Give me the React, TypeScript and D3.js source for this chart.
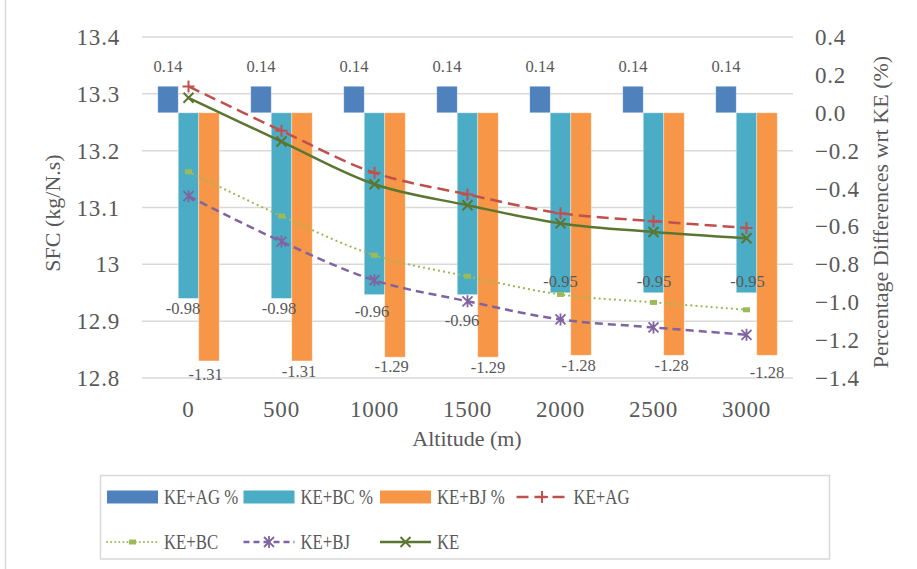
import React from 'react';
import * as d3 from 'd3';

const categories = ['0', '500', '1000', '1500', '2000', '2500', '3000'];
const keAgPct = [0.14, 0.14, 0.14, 0.14, 0.14, 0.14, 0.14];
const keBcPct = [-0.98, -0.98, -0.96, -0.96, -0.95, -0.95, -0.95];
const keBjPct = [-1.31, -1.31, -1.29, -1.29, -1.28, -1.28, -1.28];
const keAg = [13.313, 13.235, 13.161, 13.123, 13.09, 13.076, 13.064];
const keBc = [13.163, 13.085, 13.016, 12.979, 12.947, 12.933, 12.92];
const keBj = [13.12, 13.04, 12.972, 12.935, 12.903, 12.889, 12.876];
const ke = [13.293, 13.216, 13.141, 13.104, 13.072, 13.057, 13.046];
const leftTicks = [12.8, 12.9, 13.0, 13.1, 13.2, 13.3, 13.4];
const rightTicks = [-1.4, -1.2, -1.0, -0.8, -0.6, -0.4, -0.2, 0.0, 0.2, 0.4];

// manual label nudges (style), as in the original chart
const bcLabelDx = [-5.5, -2.5, -2.5, -5.5, 0, 0.5, 1];
const bcLabelDy = [15.5, 15.5, 22, 31.5, -5.5, -5.5, -5.5];
const bjLabelDx = [-3.3, -3, -3.3, 0, -2.3, -2.3, 0];
const bjLabelDy = [19, 16.5, 14.5, 15.4, 15.6, 15.6, 23];

const W = 917;
const H = 569;
const X0 = 142;
const X1 = 793;
const YT = 37;
const YB = 378;

const C = {
  blue: '#4F81BD',
  teal: '#4BACC6',
  orange: '#F79646',
  red: '#C0504D',
  lgreen: '#9BBB59',
  purple: '#8064A2',
  olive: '#5B7630',
  grid: '#D9D9D9',
  text: '#595959',
};
const FONT = '"Liberation Serif", "Times New Roman", serif';

type MarkerKind = 'plus' | 'x' | 'square' | 'star';

function Marker({ kind, x, y, color }: { kind: MarkerKind; x: number; y: number; color: string }) {
  if (kind === 'plus') {
    return <path d={`M${x - 6},${y}H${x + 6}M${x},${y - 6}V${y + 6}`} stroke={color} strokeWidth={2} fill="none" />;
  }
  if (kind === 'x') {
    return <path d={`M${x - 5},${y - 5}L${x + 5},${y + 5}M${x - 5},${y + 5}L${x + 5},${y - 5}`} stroke={color} strokeWidth={2} fill="none" />;
  }
  if (kind === 'square') {
    return <rect x={x - 3.5} y={y - 2.5} width={7} height={5} fill={color} />;
  }
  return (
    <path
      d={`M${x - 5},${y - 5}L${x + 5},${y + 5}M${x - 5},${y + 5}L${x + 5},${y - 5}M${x},${y - 6}V${y + 6}`}
      stroke={color}
      strokeWidth={1.8}
      fill="none"
    />
  );
}

export default function App() {
  const xCat = d3.scaleBand<string>().domain(categories).range([X0, X1]).padding(0);
  const barGroup = 61.5;
  const xSer = d3.scaleBand<string>().domain(['ag', 'bc', 'bj']).range([0, barGroup]).padding(0);
  const yL = d3.scaleLinear().domain([12.8, 13.4]).range([YB, YT]);
  const yR = d3.scaleLinear().domain([-1.4, 0.4]).range([YB, YT]);
  const bw = xSer.bandwidth();
  const groupStart = (c: string) => (xCat(c) as number) + (xCat.bandwidth() - barGroup) / 2;
  const cx = (c: string) => (xCat(c) as number) + xCat.bandwidth() / 2;

  const barSeries = [
    { key: 'ag', values: keAgPct, color: C.blue },
    { key: 'bc', values: keBcPct, color: C.teal },
    { key: 'bj', values: keBjPct, color: C.orange },
  ];

  const lineSeries: { name: string; values: number[]; color: string; dash: string; width: number; marker: MarkerKind; cap: string }[] = [
    { name: 'KE+AG', values: keAg, color: C.red, dash: '12,6', width: 2.5, marker: 'plus', cap: 'butt' },
    { name: 'KE+BC', values: keBc, color: C.lgreen, dash: '0.1,5', width: 2.2, marker: 'square', cap: 'round' },
    { name: 'KE+BJ', values: keBj, color: C.purple, dash: '8,5', width: 2.5, marker: 'star', cap: 'butt' },
    { name: 'KE', values: ke, color: C.olive, dash: '', width: 2.5, marker: 'x', cap: 'butt' },
  ];

  const lineGen = d3
    .line<number>()
    .x((_, i) => cx(categories[i]))
    .y((d) => yL(d))
    .curve(d3.curveCatmullRom.alpha(0.5));

  const fmtR = d3.format('.1f');
  const fmtL = (v: number) => (Math.abs(v - 13) < 1e-9 ? '13' : d3.format('.1f')(v));

  const legendItems: { label: string; kind: 'bar' | 'line'; color: string; dash?: string; width?: number; marker?: MarkerKind; cap?: string }[] = [
    { label: 'KE+AG %', kind: 'bar', color: C.blue },
    { label: 'KE+BC %', kind: 'bar', color: C.teal },
    { label: 'KE+BJ %', kind: 'bar', color: C.orange },
    { label: 'KE+AG', kind: 'line', color: C.red, dash: '12,6', width: 2.5, marker: 'plus', cap: 'butt' },
    { label: 'KE+BC', kind: 'line', color: C.lgreen, dash: '0.1,4', width: 2, marker: 'square', cap: 'round' },
    { label: 'KE+BJ', kind: 'line', color: C.purple, dash: '6,4', width: 2.5, marker: 'star', cap: 'butt' },
    { label: 'KE', kind: 'line', color: C.olive, dash: '', width: 2.5, marker: 'x', cap: 'butt' },
  ];
  const legX = (i: number) => 107 + (i % 4) * 136.5;
  const legY = (i: number) => (i < 4 ? 497 : 542);

  return (
    <svg
      width={W}
      height={H}
      style={{ position: 'absolute', left: 0, top: 0, background: '#fff' }}
      fontFamily={FONT}
    >
      <rect x={0} y={0} width={W} height={H} fill="#fff" />
      <line x1={5.5} x2={5.5} y1={0} y2={H} stroke={C.grid} strokeWidth={1.5} />

      {/* gridlines */}
      {leftTicks.map((t) => (
        <line key={t} x1={X0} x2={X1} y1={yL(t)} y2={yL(t)} stroke={C.grid} strokeWidth={1.5} />
      ))}

      {/* bars */}
      {barSeries.map((s) =>
        s.values.map((v, i) => {
          const c = categories[i];
          const x = groupStart(c) + (xSer(s.key) as number);
          const y0 = yR(0);
          const y1 = yR(v);
          return (
            <rect
              key={s.key + i}
              x={x}
              y={Math.min(y0, y1)}
              width={bw}
              height={Math.abs(y1 - y0)}
              fill={s.color}
              stroke="#ffffff"
              strokeOpacity={0.45}
              strokeWidth={0.8}
            />
          );
        })
      )}

      {/* lines */}
      {lineSeries.map((s) => (
        <g key={s.name}>
          <path
            d={lineGen(s.values) as string}
            fill="none"
            stroke={s.color}
            strokeWidth={s.width}
            strokeDasharray={s.dash || undefined}
            strokeLinecap={s.cap as any}
          />
          {s.values.map((v, i) => (
            <Marker key={i} kind={s.marker} x={cx(categories[i])} y={yL(v)} color={s.color} />
          ))}
        </g>
      ))}

      {/* bar data labels */}
      <g fill={C.text} fontSize={16.5} textAnchor="middle">
        {keAgPct.map((v, i) => (
          <text key={'la' + i} x={groupStart(categories[i]) + (xSer('ag') as number) + bw / 2} y={yR(v) - 14.3}>
            {v.toFixed(2)}
          </text>
        ))}
        {keBcPct.map((v, i) => (
          <text
            key={'lb' + i}
            x={groupStart(categories[i]) + (xSer('bc') as number) + bw / 2 + bcLabelDx[i]}
            y={yR(v) + bcLabelDy[i]}
          >
            {v.toFixed(2)}
          </text>
        ))}
        {keBjPct.map((v, i) => (
          <text
            key={'lj' + i}
            x={groupStart(categories[i]) + (xSer('bj') as number) + bw / 2 + bjLabelDx[i]}
            y={yR(v) + bjLabelDy[i]}
          >
            {v.toFixed(2)}
          </text>
        ))}
      </g>

      {/* left axis labels */}
      <g fill={C.text} fontSize={23} textAnchor="end" letterSpacing={0.8}>
        {leftTicks.map((t) => (
          <text key={t} x={120} y={yL(t)} dy="0.35em">
            {fmtL(t)}
          </text>
        ))}
      </g>
      {/* right axis labels */}
      <g fill={C.text} fontSize={23} textAnchor="start" letterSpacing={0.8}>
        {rightTicks.map((t) => (
          <text key={t} x={815} y={yR(t)} dy="0.35em">
            {fmtR(t)}
          </text>
        ))}
      </g>
      {/* category labels */}
      <g fill={C.text} fontSize={23} textAnchor="middle" letterSpacing={0.8}>
        {categories.map((c) => (
          <text key={c} x={cx(c)} y={417}>
            {c}
          </text>
        ))}
      </g>

      {/* axis titles */}
      <text x={467} y={446} fill={C.text} fontSize={22} textAnchor="middle">
        Altitude (m)
      </text>
      <text transform="translate(60,213) rotate(-90)" fill={C.text} fontSize={22} textAnchor="middle">
        SFC (kg/N.s)
      </text>
      <text transform="translate(888,212) rotate(-90)" fill={C.text} fontSize={22} textAnchor="middle">
        Percentage Differences wrt KE (%)
      </text>

      {/* legend */}
      <rect x={100.5} y={475.5} width={729} height={83.5} fill="#fff" stroke={C.grid} strokeWidth={1.5} />
      {legendItems.map((it, i) => {
        const x = legX(i);
        const y = legY(i);
        return (
          <g key={it.label}>
            {it.kind === 'bar' ? (
              <rect x={x} y={y - 6.5} width={51} height={13} fill={it.color} />
            ) : (
              <>
                <line
                  x1={x}
                  x2={x + 51}
                  y1={y}
                  y2={y}
                  stroke={it.color}
                  strokeWidth={it.width}
                  strokeDasharray={it.dash || undefined}
                  strokeLinecap={it.cap as any}
                />
                <Marker kind={it.marker as MarkerKind} x={x + 25.5} y={y} color={it.color} />
              </>
            )}
            <text
              transform={`translate(${x + 57},${y}) scale(0.84,1)`}
              dy="0.35em"
              fill={C.text}
              fontSize={20}
            >
              {it.label}
            </text>
          </g>
        );
      })}
    </svg>
  );
}
